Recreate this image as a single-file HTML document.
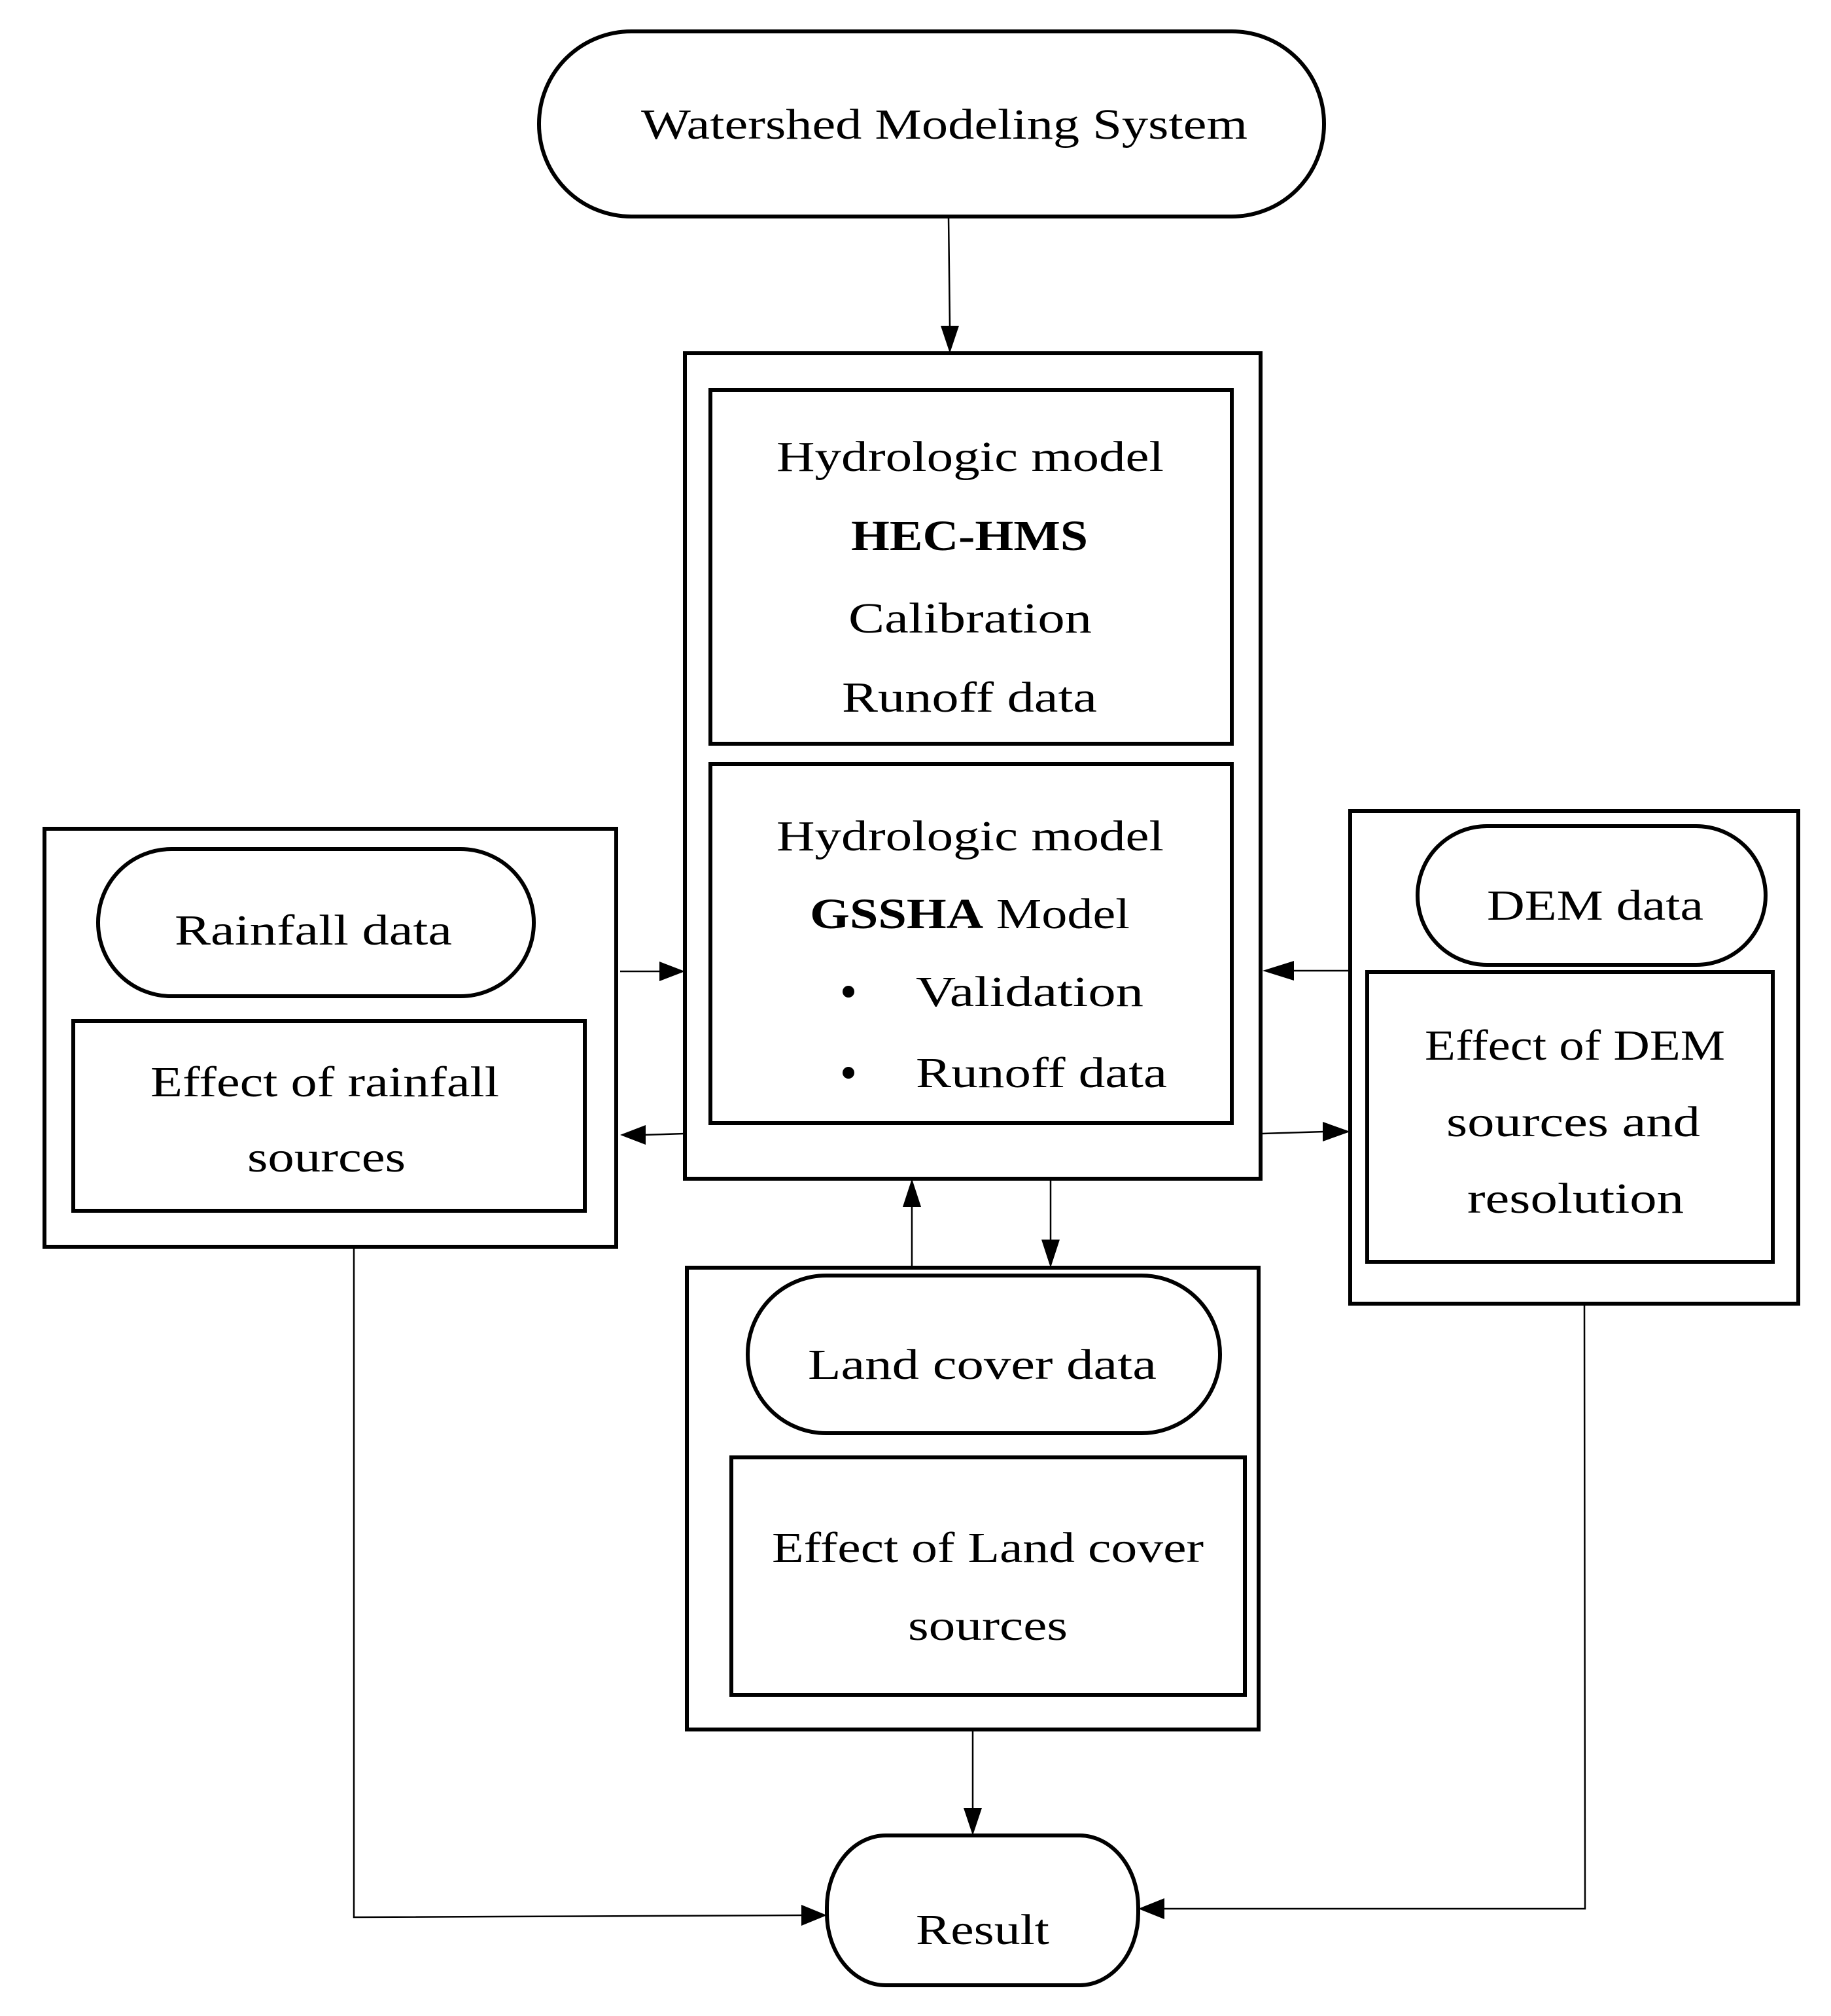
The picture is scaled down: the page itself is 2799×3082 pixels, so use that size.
<!DOCTYPE html>
<html><head><meta charset="utf-8"><style>html,body{margin:0;padding:0;background:#fff}svg{display:block}</style></head>
<body>
<svg width="2799" height="3082" viewBox="0 0 2799 3082" xmlns="http://www.w3.org/2000/svg">
<g fill="none" stroke="#000">
<rect x="824" y="48" width="1200" height="283" rx="141" ry="141" stroke-width="6"/>
<rect x="1047" y="540" width="880" height="1262" stroke-width="6"/>
<rect x="1086" y="596" width="797" height="541" stroke-width="6"/>
<rect x="1086" y="1168" width="797" height="549" stroke-width="6"/>
<rect x="68" y="1267" width="874" height="639" stroke-width="6"/>
<rect x="150" y="1298" width="666" height="225" rx="112" ry="112" stroke-width="6"/>
<rect x="112" y="1561" width="782" height="290" stroke-width="6"/>
<rect x="2064" y="1240" width="685" height="753" stroke-width="6"/>
<rect x="2167" y="1263" width="532" height="212" rx="106" ry="106" stroke-width="6"/>
<rect x="2090" y="1486" width="620" height="443" stroke-width="6"/>
<rect x="1050" y="1938" width="874" height="706" stroke-width="6"/>
<rect x="1143" y="1950" width="722" height="241" rx="120" ry="120" stroke-width="6"/>
<rect x="1118" y="2228" width="785" height="363" stroke-width="6"/>
<rect x="1264" y="2806" width="476" height="229" rx="90" ry="110" stroke-width="6"/>
<g stroke-width="2.5">
<line x1="1450" y1="332" x2="1452" y2="500"/>
<line x1="948" y1="1485" x2="1010" y2="1485"/>
<line x1="1047" y1="1733" x2="985" y2="1735"/>
<line x1="2062" y1="1484" x2="1975" y2="1484"/>
<line x1="1930" y1="1733" x2="2025" y2="1730"/>
<line x1="1394" y1="1936" x2="1394" y2="1842"/>
<line x1="1606" y1="1802" x2="1606" y2="1898"/>
<line x1="1487" y1="2644" x2="1487" y2="2765"/>
<polyline points="541,1906 541,2931 1225,2928"/>
<polyline points="2422,1993 2423,2918 1778,2918"/>
</g>
</g>
<g fill="#000">
<polygon points="1438,498 1466,498 1452,540"/>
<polygon points="1008,1470 1008,1500 1047,1485"/>
<polygon points="987,1720 987,1750 948,1735"/>
<polygon points="1978,1469 1978,1499 1930,1484"/>
<polygon points="2022,1715 2022,1745 2064,1730"/>
<polygon points="1380,1845 1408,1845 1394,1802"/>
<polygon points="1592,1895 1620,1895 1606,1938"/>
<polygon points="1473,2764 1501,2764 1487,2806"/>
<polygon points="1225,2912 1225,2944 1264,2928"/>
<polygon points="1780,2902 1780,2934 1740,2918"/>
<circle cx="1297" cy="1516" r="9"/>
<circle cx="1297" cy="1640" r="9"/>
</g>
<g font-family="'Liberation Serif', serif" font-size="66" fill="#000">
<text x="980" y="212" textLength="927" lengthAdjust="spacingAndGlyphs">Watershed Modeling System</text>
<text x="1187" y="720" textLength="592" lengthAdjust="spacingAndGlyphs">Hydrologic model</text>
<text x="1301" y="841" textLength="362" lengthAdjust="spacingAndGlyphs" font-weight="bold">HEC-HMS</text>
<text x="1297" y="967" textLength="372" lengthAdjust="spacingAndGlyphs">Calibration</text>
<text x="1287" y="1088" textLength="390" lengthAdjust="spacingAndGlyphs">Runoff data</text>
<text x="1187" y="1300" textLength="592" lengthAdjust="spacingAndGlyphs">Hydrologic model</text>
<text x="1238" y="1419" textLength="489" lengthAdjust="spacingAndGlyphs"><tspan font-weight="bold">GSSHA</tspan> Model</text>
<text x="1400" y="1538" textLength="348" lengthAdjust="spacingAndGlyphs">Validation</text>
<text x="1400" y="1662" textLength="384" lengthAdjust="spacingAndGlyphs">Runoff data</text>
<text x="267" y="1444" textLength="424" lengthAdjust="spacingAndGlyphs">Rainfall data</text>
<text x="230" y="1676" textLength="533" lengthAdjust="spacingAndGlyphs">Effect of rainfall</text>
<text x="378" y="1791" textLength="242" lengthAdjust="spacingAndGlyphs">sources</text>
<text x="2273" y="1406" textLength="331" lengthAdjust="spacingAndGlyphs">DEM data</text>
<text x="2178" y="1620" textLength="459" lengthAdjust="spacingAndGlyphs">Effect of DEM</text>
<text x="2211" y="1737" textLength="388" lengthAdjust="spacingAndGlyphs">sources and</text>
<text x="2243" y="1854" textLength="331" lengthAdjust="spacingAndGlyphs">resolution</text>
<text x="1235" y="2108" textLength="533" lengthAdjust="spacingAndGlyphs">Land cover data</text>
<text x="1180" y="2388" textLength="660" lengthAdjust="spacingAndGlyphs">Effect of Land cover</text>
<text x="1388" y="2507" textLength="244" lengthAdjust="spacingAndGlyphs">sources</text>
<text x="1400" y="2972" textLength="204" lengthAdjust="spacingAndGlyphs">Result</text>
</g>
</svg>
</body></html>
